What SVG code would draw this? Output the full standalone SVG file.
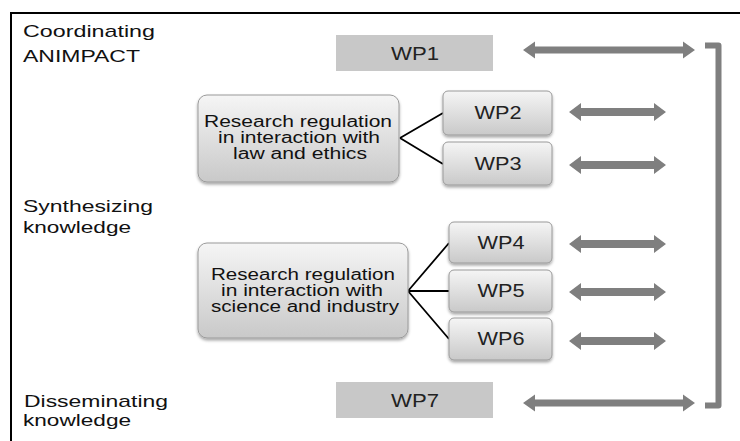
<svg xmlns="http://www.w3.org/2000/svg" xmlns:xlink="http://www.w3.org/1999/xlink" width="740" height="441" viewBox="0 0 740 441">
<defs>
<linearGradient id="g" x1="0" y1="0" x2="0" y2="1">
<stop offset="0" stop-color="#f5f5f5"/>
<stop offset="1" stop-color="#c9c9c9"/>
</linearGradient>
<filter id="sh" x="-10%" y="-10%" width="120%" height="130%">
<feDropShadow dx="0" dy="2" stdDeviation="1.5" flood-color="#000" flood-opacity="0.35"/>
</filter>
<path id="longArrow" d="M0,0 l12,-8.5 v5 h148 v-5 l12,8.5 l-12,8.5 v-5 h-148 v5 z"/>
<path id="shortArrow" d="M0,0 l12,-9 v5 h73 v-5 l12,9 l-12,9 v-5 h-73 v5 z"/>
</defs>
<style>
.lbl{font-family:"Liberation Sans",Arial,sans-serif;font-size:17px;fill:#111}
.box{fill:url(#g);stroke:#9a9a9a;stroke-width:1;filter:url(#sh)}
.bt{font-family:"Liberation Sans",Arial,sans-serif;font-size:16px;fill:#111;text-anchor:middle}
.wp{font-family:"Liberation Sans",Arial,sans-serif;font-size:19px;fill:#222;text-anchor:middle}
.flat{fill:#c8c8c8}
.arr{fill:#7f7f7f}
.conn{stroke:#000;stroke-width:1.8;fill:none}
</style>
<rect width="740" height="441" fill="#fff"/>
<path d="M11,441 V13 H740" fill="none" stroke="#000" stroke-width="2"/>

<g id="labels">
<text class="lbl" x="23" y="37" textLength="132" lengthAdjust="spacingAndGlyphs">Coordinating</text>
<text class="lbl" x="23" y="62" textLength="117" lengthAdjust="spacingAndGlyphs">ANIMPACT</text>
<text class="lbl" x="23" y="212" textLength="130" lengthAdjust="spacingAndGlyphs">Synthesizing</text>
<text class="lbl" x="23" y="233" textLength="108" lengthAdjust="spacingAndGlyphs">knowledge</text>
<text class="lbl" x="24" y="407" textLength="144" lengthAdjust="spacingAndGlyphs">Disseminating</text>
<text class="lbl" x="23" y="426" textLength="108" lengthAdjust="spacingAndGlyphs">knowledge</text>
</g>

<g id="connectors">
<path class="conn" d="M400,138 L443,113 M400,138 L443,164"/>
<path class="conn" d="M408,291 L449,243 M408,291 L449,291 M408,291 L449,339"/>
<use href="#longArrow" class="arr" x="523" y="50"/>
<use href="#shortArrow" class="arr" x="569" y="112"/>
<use href="#shortArrow" class="arr" x="569" y="165"/>
<use href="#shortArrow" class="arr" x="569" y="244"/>
<use href="#shortArrow" class="arr" x="569" y="292"/>
<use href="#shortArrow" class="arr" x="569" y="341"/>
<use href="#longArrow" class="arr" x="523" y="403"/>
<path d="M705,45.5 H718.5 V405.5 H705" fill="none" stroke="#7f7f7f" stroke-width="6" stroke-linejoin="round"/>
</g>

<g id="wp1">
<rect class="flat" x="336" y="35" width="157" height="36"/>
<text class="wp" x="415" y="60" textLength="48" lengthAdjust="spacingAndGlyphs">WP1</text>
</g>

<g id="law">
<rect class="box" x="198" y="95" width="201" height="87" rx="9"/>
<text class="bt" x="298" y="127" textLength="188" lengthAdjust="spacingAndGlyphs">Research regulation</text>
<text class="bt" x="299" y="143" textLength="162" lengthAdjust="spacingAndGlyphs">in interaction with</text>
<text class="bt" x="300" y="159" textLength="134" lengthAdjust="spacingAndGlyphs">law and ethics</text>
</g>

<g id="wp2">
<rect class="box" x="443" y="91" width="109" height="44" rx="5"/>
<text class="wp" x="498" y="119" textLength="47" lengthAdjust="spacingAndGlyphs">WP2</text>
</g>
<g id="wp3">
<rect class="box" x="443" y="142" width="109" height="43" rx="5"/>
<text class="wp" x="498" y="170" textLength="47" lengthAdjust="spacingAndGlyphs">WP3</text>
</g>

<g id="science">
<rect class="box" x="198" y="243" width="210" height="95" rx="9"/>
<text class="bt" x="303" y="280" textLength="184" lengthAdjust="spacingAndGlyphs">Research regulation</text>
<text class="bt" x="302" y="296" textLength="162" lengthAdjust="spacingAndGlyphs">in interaction with</text>
<text class="bt" x="305" y="312" textLength="188" lengthAdjust="spacingAndGlyphs">science and industry</text>
</g>

<g id="wp4">
<rect class="box" x="449" y="222" width="103" height="41" rx="5"/>
<text class="wp" x="501" y="249" textLength="47" lengthAdjust="spacingAndGlyphs">WP4</text>
</g>
<g id="wp5">
<rect class="box" x="449" y="270" width="103" height="42" rx="5"/>
<text class="wp" x="501" y="297" textLength="47" lengthAdjust="spacingAndGlyphs">WP5</text>
</g>
<g id="wp6">
<rect class="box" x="449" y="318" width="103" height="42" rx="5"/>
<text class="wp" x="501" y="345" textLength="47" lengthAdjust="spacingAndGlyphs">WP6</text>
</g>

<g id="wp7">
<rect class="flat" x="336" y="382" width="157" height="36"/>
<text class="wp" x="415" y="407" textLength="48" lengthAdjust="spacingAndGlyphs">WP7</text>
</g>
</svg>
